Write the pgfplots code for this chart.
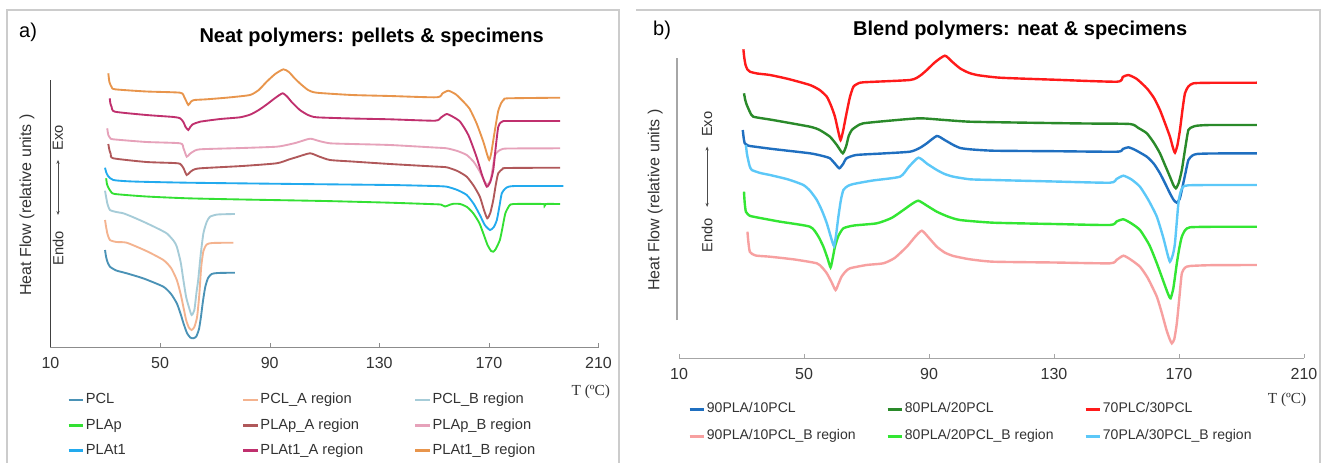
\documentclass[border=0pt]{standalone}
\usepackage{fontspec}
\setmainfont{Liberation Sans}
\newfontfamily\tfont{Liberation Serif}
\usepackage{pgfplots}
\pgfplotsset{compat=1.18}
\usetikzlibrary{arrows.meta}

% panel a
\definecolor{cPCL}{HTML}{4A92B6}
\definecolor{cPCLA}{HTML}{F4B38F}
\definecolor{cPCLB}{HTML}{A6CCD8}
\definecolor{cPLAp}{HTML}{33E033}
\definecolor{cPLApA}{HTML}{B0585A}
\definecolor{cPLApB}{HTML}{E6A2BA}
\definecolor{cPLAt}{HTML}{22AAEE}
\definecolor{cPLAtA}{HTML}{C0306E}
\definecolor{cPLAtB}{HTML}{E8954C}
% panel b
\definecolor{bBlue}{HTML}{1F6FC0}
\definecolor{bDGreen}{HTML}{2A8A2A}
\definecolor{bRed}{HTML}{FF1A1A}
\definecolor{bPink}{HTML}{F7A0A0}
\definecolor{bGreen}{HTML}{33E633}
\definecolor{bLBlue}{HTML}{5CC8F8}

\pgfplotsset{
  dsc/.style={
    scale only axis, clip=false,
    xmin=10, xmax=210, ymin=0,
    axis x line*=bottom, axis y line=none,
    xtick={10,50,90,130,170,210},
    tick align=inside, major tick length=3pt,
    /pgf/number format/assume math mode=true,
    xticklabel style={font=\fontsize{12}{14}\selectfont, text=black!80, yshift=-4pt},
    legend columns=3, legend cell align=left,
    legend image code/.code={\draw[##1, line width=2pt] (0pt,0pt) -- (11pt,0pt);},
    smooth, tension=0.35,
  }
}

\begin{document}
\begin{tikzpicture}
\useasboundingbox (0,0) rectangle (992.25pt,-347.25pt);
\fill[white] (0,0) rectangle (992.25pt,-347.25pt);

% ---------------- a) ----------------
\begin{axis}[dsc,
  at={(37.875pt,-260.25pt)}, anchor=south west,
  width=411pt, height=215.25pt, ymax=287,
  x axis line style={black!45}, xtick style={black!45},
  every axis plot/.append style={line width=1.4pt},
  legend style={at={(axis description cs:0.030,-0.143)}, anchor=north west,
    draw=none, fill=none, inner sep=0pt,
    font=\fontsize{11}{13}\selectfont, row sep=1.3pt,
    nodes={inner xsep=1pt, inner ysep=3.6pt, text height=8pt, text depth=2.5pt, text=black!80},
    /tikz/column 2/.style={column sep=86pt},
    /tikz/column 4/.style={column sep=37pt}},
]
\addplot[cPCL] coordinates {(29.9,97) (30.3,90) (30.8,85) (31.7,80.3) (34,76.5) (37.8,73.7) (44,68.5) (51.2,60.3) (54,53) (56.1,43.7) (57.5,33) (58.5,24) (59.8,14) (61,9.5) (62.1,8.7) (63.2,10.5) (64.2,18) (64.9,30) (65.7,47) (66.5,60.3) (67.5,69) (68.8,73) (71,74) (77.3,74.3)};
\addplot[cPCLA] coordinates {(29.9,127) (30.3,120) (30.8,113) (31.7,107) (34,105) (37.8,104.3) (45,96) (51.2,87) (54,79) (56.1,67) (57.5,53) (58.5,40) (59.5,27) (60.5,19.5) (61.5,17) (62.5,20) (63.5,30) (64.3,52) (65,80) (65.8,96) (67,102.5) (69,104) (76.7,104.3)};
\addplot[cPCLB] coordinates {(29.9,156.3) (30.3,150) (30.8,143) (31.7,137) (34,135) (36.6,133.7) (40,130) (43.9,125.3) (48,120) (52.4,113.7) (55,106) (56.1,100.3) (57.5,85) (58.5,67) (59.5,50) (60.5,40) (61.5,32) (62.5,37) (63.3,55) (63.9,67) (64.8,92) (65.8,113.7) (67,125) (68.2,130.3) (71,132.5) (77.3,133)};
\addplot[cPLAp] coordinates {(30.3,168.7) (30.6,163) (31,160) (32,155.5) (33.5,153) (45,150.5) (60,148.7) (80,147.5) (110,146) (133.9,144.3) (150,142.8) (152.5,142.4) (154,140.5) (155.5,142) (157,143.2) (159.5,143) (162,140) (164.3,133.7) (166.5,124) (167.9,114) (169.5,102) (170.8,96) (171.6,95.3) (172.5,98) (174,107) (175,120) (176,133.7) (177.5,141.5) (179,143) (190,143) (190.3,141) (190.6,143) (196,143)};
\addplot[cPLApA] coordinates {(31.1,203) (31.5,197) (32,193) (32.9,188.7) (45,185) (55,184) (57.3,183.2) (58.5,179) (59.7,172) (60.8,174.5) (62,177) (64.6,178.7) (80,181) (92.5,183.7) (97,187.5) (100,190) (104.7,193.7) (108,190.5) (112,187) (120,185.5) (133.9,183) (150,180.5) (154.6,179.7) (158.5,176) (161.9,170.3) (164.5,161) (166.7,150.3) (168.2,137) (169.4,128.7) (170.5,134) (171.6,147) (172.5,162) (173.4,173.7) (175,178) (176.5,179) (196,179.3)};
\addplot[cPLApB] coordinates {(30.7,218.7) (31.1,212) (31.8,209) (32.9,207.7) (45,205) (57.3,203.7) (58.5,199) (59.7,190.3) (60.8,193) (62,195.3) (64.6,197.7) (80,199) (92.5,200.3) (97,202.5) (100,204.5) (104.7,208.3) (108,206) (112,203.7) (120,203) (133.9,202) (150,199.5) (154.6,198.7) (158.5,196) (161.9,192) (164.5,185) (166.7,175.3) (168.3,166) (169.5,162) (170.7,168) (171.5,181) (172.2,192) (173.5,196) (174.7,197.7) (177,198.5) (196,198.7)};
\addplot[cPLAt] coordinates {(29.9,179.3) (30.3,175) (31,171) (32.9,167) (40,165.5) (60,164.3) (100,163) (133.9,162) (150,161) (154.6,160.3) (158.5,157) (161.9,152) (164.5,143) (166.7,132) (168.5,122) (170.4,117) (171.8,120) (172.9,127) (173.8,140) (174.7,153.7) (176,158.5) (177.2,160.3) (180,161) (197.2,161)};
\addplot[cPLAtA] coordinates {(31.6,248.7) (31.9,243) (32.3,240) (33.5,235.3) (45,232) (55,230) (57.3,228.7) (58.5,225) (59.3,220) (60.3,217) (61,220) (61.8,222.5) (64.6,225.3) (72,228) (79.2,229.7) (83,232.5) (86,237) (88.9,242.5) (92,249) (94.7,253.7) (96.5,250) (98,245) (101,237) (104,232) (107.1,229.7) (120,228.5) (133.9,227.7) (150.3,226.3) (152.5,229.5) (154.6,233) (157,230) (159.5,225.3) (162.5,212) (165.5,190) (167.5,172) (169.2,160.3) (170.5,165) (171.6,177) (172.5,200) (173.4,220) (174.3,224.5) (175.3,226) (178,226) (196,226)};
\addplot[cPLAtB] coordinates {(31.1,273.7) (31.5,265) (32.3,260) (33.5,257.7) (45,255.5) (57.3,254.3) (58.8,250) (60.3,242) (61.3,245.5) (62.5,247) (67,247.7) (75,249.5) (82.8,252) (86,257) (88.9,265.3) (92,273) (95,277.7) (97,275) (99,269) (101,263.7) (104,257) (107.1,254.3) (120,252) (133.9,251) (151,249.7) (153,253.5) (155.2,256.3) (158,252.5) (160.7,245.3) (163,238) (165.5,223.7) (168,205) (169.3,193) (170.1,187) (170.8,193) (171.5,205) (172.5,222) (173.4,236) (174.5,244) (175.5,247.5) (177,248.7) (196,249.3)};
\legend{PCL, PCL\_A region, PCL\_B region, PLAp, PLAp\_A region, PLAp\_B region, PLAt1, PLAt1\_A region, PLAt1\_B region}

\draw[black!75, line width=0.8pt] (axis cs:10,0) -- (axis cs:10,267);
\node[font=\fontsize{15}{17}\selectfont\bfseries] at (axis description cs:0.586,1.080) {Neat polymers: pellets \& specimens};
\node[font=\fontsize{15}{17}\selectfont] at (axis description cs:-0.041,1.098) {a)};
\node[rotate=90, font=\fontsize{12}{14}\selectfont, text=black!80] at (axis description cs:-0.043,0.495) {Heat Flow (relative units )};
\node[rotate=90, font=\fontsize{11}{13}\selectfont, text=black!80] at (axis description cs:0.0137,0.728) {Exo};
\node[rotate=90, font=\fontsize{11}{13}\selectfont, text=black!80] at (axis description cs:0.0137,0.345) {Endo};
\draw[black!70, line width=0.5pt, {Stealth[length=3pt,width=2.4pt]}-{Stealth[length=3pt,width=2.4pt]}] (axis description cs:0.0137,0.460) -- (axis description cs:0.0137,0.652);
\node[font=\tfont\fontsize{11.5}{13}\selectfont, text=black!80] at (axis description cs:0.986,-0.157) {T (ºC)};
\end{axis}

% ---------------- b) ----------------
\begin{axis}[dsc,
  at={(509.25pt,-268.5pt)}, anchor=south west,
  width=468.75pt, height=238.5pt, ymax=318,
  x axis line style={black!35}, xtick style={black!35},
  every axis plot/.append style={line width=1.8pt},
  legend style={at={(axis description cs:0.0144,-0.125)}, anchor=north west,
    draw=none, fill=none, inner sep=0pt,
    font=\fontsize{10.5}{12}\selectfont, row sep=3.2pt,
    nodes={inner xsep=1pt, inner ysep=3.5pt, text height=7.5pt, text depth=2.5pt, text=black!80},
    /tikz/every even column/.append style={column sep=22pt}},
]
\addplot[bBlue] coordinates {(30.4,228) (30.7,220) (31,215) (31.8,213) (32.7,212) (40,209) (51.9,204.7) (56,202) (58.3,199.7) (60,194) (61.3,189.7) (62.5,194) (63.6,199.7) (66.7,203) (75,204.5) (83.9,206.3) (87,210) (89.3,214.7) (92.5,222) (95,218) (97.8,213) (100,210) (103.1,208.7) (110.6,207.3) (130,206.8) (150.1,206.3) (152,209) (153.8,210.7) (156,208) (159.7,201.3) (162,194) (163.9,184.7) (165.5,175) (167.1,164.7) (168.3,158) (169.3,155.3) (170.2,159) (170.9,168) (172,184) (173,198) (174.3,202.5) (175.7,204) (180,204.5) (194.9,204.7)};
\addplot[bDGreen] coordinates {(30.8,264.7) (31.2,258) (31.7,253) (32.7,246) (33.8,241.3) (40,238) (51.9,231.3) (55,228) (58.3,221.3) (60.5,213) (62.4,204.7) (63.5,212) (64.3,222) (65.3,228) (67,232) (69,234.7) (78,237.5) (87.1,239.7) (95,238) (103.1,236.3) (121.3,235.3) (140,234.5) (154.3,234) (157,230) (159.7,224.7) (162,215) (163.9,204.7) (165.5,193) (167.1,181.3) (168.2,173) (169,169.7) (169.9,175) (170.9,188) (172,210) (173,228) (174.3,231) (175.7,232.3) (180,233) (194.9,233)};
\addplot[bRed] coordinates {(30.6,308.7) (30.9,300) (31.3,293) (31.9,288.5) (32.7,286.3) (35,284.5) (39.1,283) (45,279) (51.9,273) (55,268) (57.3,261.3) (58.7,252) (59.9,241.3) (61,226) (61.7,218) (62.5,227) (63.6,244.7) (64.7,261) (65.8,271.3) (67,274) (69,275.7) (83.9,278) (87,282) (89.3,288) (92,296) (95.1,302.3) (97.5,296) (99.9,289.7) (102.5,285.5) (105.3,283) (112.7,280.3) (130,278.3) (150.1,276.3) (152,281) (153.8,283) (156.5,279) (159.7,269.7) (162,260) (163.9,248) (165.5,235) (167.1,221.3) (168,211) (168.7,205.3) (169.5,213) (170.3,228) (171.1,248) (171.9,264.7) (173,271.5) (174.6,274.7) (180,275.2) (194.9,275.3)};
\addplot[bPink] coordinates {(31.9,126.3) (32.2,116) (32.7,106) (34.5,102.5) (39.1,101.3) (47,98.5) (54.1,94.7) (55.8,90.5) (57.3,84.7) (58.8,76) (60.1,68) (61,74) (62,81.3) (63.3,86.5) (64.7,89.7) (70,93) (75.4,94.7) (79,100) (82.9,111.3) (85.5,121) (87.7,127.3) (90,120) (92.5,111.3) (95,105.5) (97.8,102) (103.1,98.7) (110.6,96.3) (130,95.5) (147.9,94.7) (150,98) (152.2,102.3) (154.5,98.5) (157.5,91.3) (160,80) (162.9,61.3) (164.5,45) (166,28) (167,19) (167.7,14.7) (168.5,19) (169.3,34.7) (170.1,60) (170.9,84.7) (172,90.5) (173.5,92) (180,92.8) (194.9,93)};
\addplot[bGreen] coordinates {(30.8,166.3) (31,156) (31.4,146.3) (32.5,142.5) (33.8,141.3) (42,136.5) (51.9,131.3) (54.5,122) (56.2,111.3) (57.5,100) (58.5,90.7) (59.2,100) (59.9,111.3) (61,122) (62.6,129.7) (66,132.5) (73.3,134.7) (78,140) (81.8,148) (84.5,154) (86.6,157.3) (89.5,152) (92.5,146.3) (96,141.5) (99.9,138) (110.6,135.3) (130,134) (147.9,133) (150,136.5) (152.2,138.7) (154.8,134.5) (157.5,128) (160.5,113) (162.9,94.7) (165.2,75) (166.5,64) (167.3,59.7) (168.2,70) (169.3,94.7) (170.1,110) (170.9,121.3) (172,128) (173.5,130.7) (180,131.2) (194.9,131.3)};
\addplot[bLBlue] coordinates {(31.4,213) (31.7,205) (32,200) (32.6,192) (33.3,188) (36,185) (39.1,183) (45,178.5) (49.8,173) (52,167) (54.1,158) (55.8,147) (57.3,134.7) (58.5,122) (59.6,112) (60.3,124) (61,141.3) (61.8,158) (62.6,168) (64,172) (65.8,174) (72,177.5) (80.7,181.3) (83.5,191) (86.6,200.3) (89.5,194) (92.5,188) (95,184) (97.8,181.3) (103.1,178.7) (110.6,178) (130,176.5) (147.9,175.3) (150,179) (152.2,182.3) (154.8,178.5) (157.5,171.3) (160.2,158) (162.9,141.3) (165,120) (166.3,104) (167.1,96.3) (168,103) (168.7,114.7) (169.8,154.7) (170.5,166) (171.3,171.3) (173,172.7) (180,173) (194.9,173)};
\legend{90PLA/10PCL, 80PLA/20PCL, 70PLC/30PCL, 90PLA/10PCL\_B region, 80PLA/20PCL\_B region, 70PLA/30PCL\_B region}

\draw[black!35, line width=0.8pt] (axis cs:9.36,38) -- (axis cs:9.36,300);
\node[font=\fontsize{15}{17}\selectfont\bfseries] at (axis description cs:0.546,1.031) {Blend polymers: neat \& specimens};
\node[font=\fontsize{15}{17}\selectfont] at (axis description cs:-0.027,1.031) {b)};
\node[rotate=90, font=\fontsize{12}{14}\selectfont, text=black!80] at (axis description cs:-0.038,0.497) {Heat Flow (relative units )};
\node[rotate=90, font=\fontsize{11}{13}\selectfont, text=black!80] at (axis description cs:0.045,0.735) {Exo};
\node[rotate=90, font=\fontsize{11}{13}\selectfont, text=black!80] at (axis description cs:0.045,0.385) {Endo};
\draw[black!70, line width=0.5pt, {Stealth[length=3pt,width=2.4pt]}-{Stealth[length=3pt,width=2.4pt]}] (axis description cs:0.045,0.475) -- (axis description cs:0.045,0.665);
\node[font=\tfont\fontsize{11.5}{13}\selectfont, text=black!80] at (axis description cs:0.973,-0.132) {T (ºC)};
\end{axis}

% panel frames
\draw[black!20, line width=0.8pt] (5.25pt,-347.25pt) -- (5.25pt,-7.5pt) -- (464.25pt,-7.5pt) -- (464.25pt,-347.25pt);
\draw[black!20, line width=0.8pt] (477pt,-7.5pt) -- (990pt,-7.5pt) -- (990pt,-347.25pt);
\end{tikzpicture}
\end{document}
